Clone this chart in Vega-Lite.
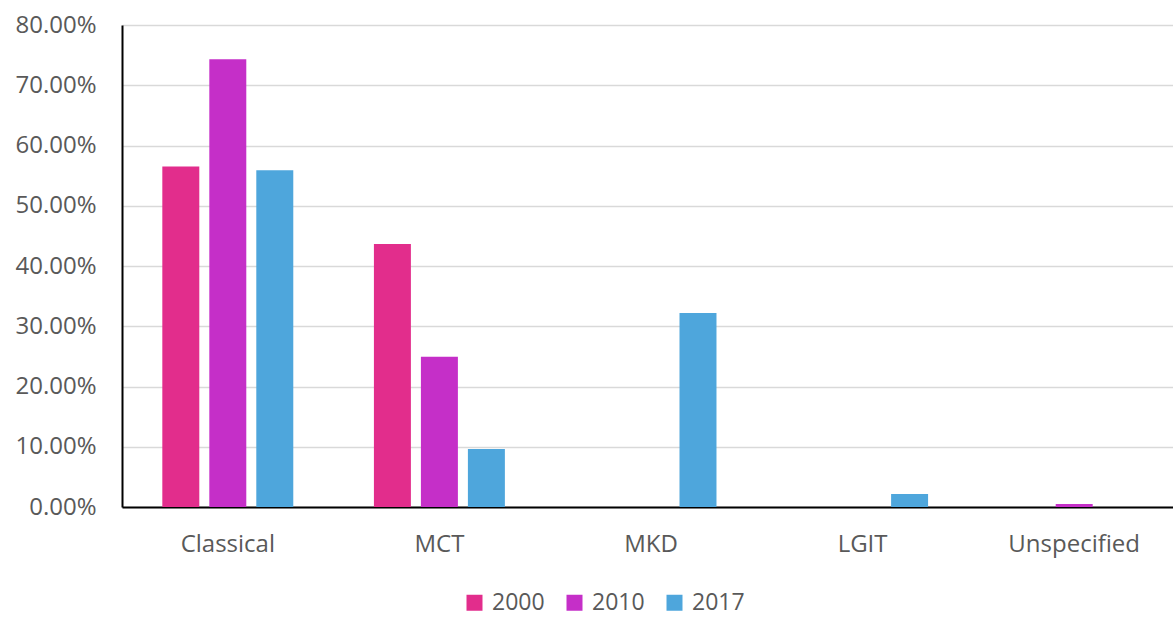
{
  "$schema": "https://vega.github.io/schema/vega-lite/v6.json",
  "autosize": {"type": "none"},
  "padding": {"left": 122, "top": 25, "right": -7, "bottom": 111},
  "width": 1058,
  "height": 482,
  "background": "white",
  "data": {"values": [
    {"category": "Classical", "year": "2000", "share": 0.565},
    {"category": "Classical", "year": "2010", "share": 0.743},
    {"category": "Classical", "year": "2017", "share": 0.559},
    {"category": "MCT", "year": "2000", "share": 0.4365},
    {"category": "MCT", "year": "2010", "share": 0.2495},
    {"category": "MCT", "year": "2017", "share": 0.0963},
    {"category": "MKD", "year": "2000", "share": 0},
    {"category": "MKD", "year": "2010", "share": 0},
    {"category": "MKD", "year": "2017", "share": 0.322},
    {"category": "LGIT", "year": "2000", "share": 0},
    {"category": "LGIT", "year": "2010", "share": 0},
    {"category": "LGIT", "year": "2017", "share": 0.0216},
    {"category": "Unspecified", "year": "2000", "share": 0},
    {"category": "Unspecified", "year": "2010", "share": 0.005},
    {"category": "Unspecified", "year": "2017", "share": 0}
  ]},
  "mark": {"type": "bar"},
  "encoding": {
    "x": {
      "field": "category", "type": "nominal", "sort": null,
      "scale": {"paddingInner": 0.334, "paddingOuter": 0.167},
      "axis": {"title": null, "labelAngle": 0, "ticks": false, "domainColor": "#000000", "domainWidth": 2, "labelFont": "Open Sans", "labelFontSize": 24, "labelColor": "#595959", "labelPadding": 25, "grid": false}
    },
    "xOffset": {
      "field": "year", "type": "nominal",
      "scale": {"paddingInner": 0.213, "paddingOuter": 0.106}
    },
    "y": {
      "field": "share", "type": "quantitative",
      "scale": {"domain": [0, 0.8], "nice": false},
      "axis": {"title": null, "format": ".2%", "values": [0, 0.1, 0.2, 0.3, 0.4, 0.5, 0.6, 0.7, 0.8], "ticks": false, "domainColor": "#000000", "domainWidth": 2, "gridColor": "#D9D9D9", "gridWidth": 1.5, "labelFont": "Open Sans", "labelFontSize": 24, "labelColor": "#595959", "labelPadding": 26}
    },
    "color": {
      "field": "year", "type": "nominal",
      "scale": {"domain": ["2000", "2010", "2017"], "range": ["#E22D8C", "#C52FC8", "#4EA6DC"]},
      "legend": {"title": null, "orient": "none", "legendX": 341, "legendY": 566, "direction": "horizontal", "symbolType": "square", "symbolSize": 256, "symbolStrokeWidth": 0, "labelFont": "Open Sans", "labelFontSize": 23, "labelColor": "#595959", "columnPadding": 18, "labelOffset": 6}
    }
  },
  "config": {"view": {"stroke": null}, "axis": {"gridDash": []}}
}
